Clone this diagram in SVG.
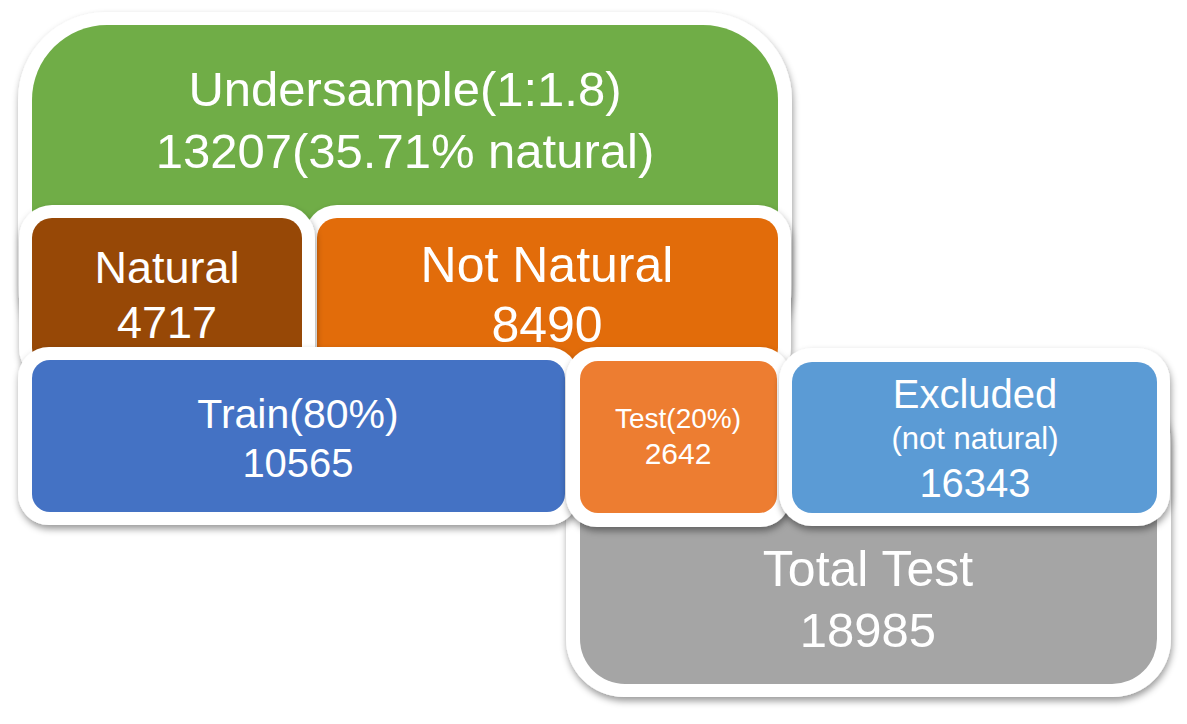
<svg xmlns="http://www.w3.org/2000/svg" width="1187" height="724" viewBox="0 0 1187 724">
  <defs>
    <filter id="sh" x="-10%" y="-10%" width="120%" height="130%">
      <feDropShadow dx="1" dy="4" stdDeviation="3.5" flood-color="#000" flood-opacity="0.4"/>
    </filter>
    <style>
      .frame { fill: #ffffff; filter: url(#sh); }
      .t { font-family: "Liberation Sans", Arial, sans-serif; fill: #ffffff; text-anchor: middle; }
    </style>
  </defs>
  <rect width="1187" height="724" fill="#ffffff"/>

  <g id="undersample">
    <rect class="frame" x="18" y="12" width="774" height="361" rx="88" ry="88"/>
    <rect x="32" y="25" width="746" height="335" rx="75" ry="75" fill="#70AD47"/>
    <text class="t" x="405" y="106" font-size="49">Undersample(1:1.8)</text>
    <text class="t" x="405" y="168" font-size="49">13207(35.71% natural)</text>
  </g>

  <g id="not-natural">
    <rect class="frame" x="304" y="205" width="487" height="176" rx="33" ry="33"/>
    <rect x="317" y="218" width="461" height="150" rx="20" ry="20" fill="#E26C0A"/>
    <text class="t" x="547" y="282" font-size="50">Not Natural</text>
    <text class="t" x="547" y="342" font-size="50">8490</text>
  </g>

  <g id="natural">
    <rect class="frame" x="19" y="205" width="296" height="176" rx="33" ry="33"/>
    <rect x="32" y="218" width="270" height="150" rx="20" ry="20" fill="#974806"/>
    <text class="t" x="167" y="283" font-size="45">Natural</text>
    <text class="t" x="167" y="338" font-size="45">4717</text>
  </g>

  <g id="total-test">
    <rect class="frame" x="566" y="386" width="605" height="311" rx="58" ry="58"/>
    <rect x="580" y="400" width="577" height="284" rx="45" ry="45" fill="#A5A5A5"/>
    <text class="t" x="868" y="586" font-size="50">Total Test</text>
    <text class="t" x="868" y="647" font-size="49">18985</text>
  </g>

  <g id="train">
    <rect class="frame" x="18" y="347" width="561" height="178" rx="31" ry="31"/>
    <rect x="32" y="360" width="533" height="152" rx="18" ry="18" fill="#4472C4"/>
    <text class="t" x="298" y="428" font-size="41">Train(80%)</text>
    <text class="t" x="298" y="477" font-size="40">10565</text>
  </g>

  <g id="test">
    <rect class="frame" x="566" y="347" width="225" height="180" rx="31" ry="31"/>
    <rect x="580" y="361" width="197" height="152" rx="18" ry="18" fill="#ED7D31"/>
    <text class="t" x="678" y="428" font-size="28">Test(20%)</text>
    <text class="t" x="678" y="464" font-size="30">2642</text>
  </g>

  <g id="excluded">
    <rect class="frame" x="779" y="348" width="391" height="178" rx="33" ry="33"/>
    <rect x="792" y="362" width="365" height="151" rx="20" ry="20" fill="#5B9BD5"/>
    <text class="t" x="975" y="408" font-size="40">Excluded</text>
    <text class="t" x="975" y="449" font-size="31">(not natural)</text>
    <text class="t" x="975" y="497" font-size="40">16343</text>
  </g>

  <g id="connectors"/>
</svg>
